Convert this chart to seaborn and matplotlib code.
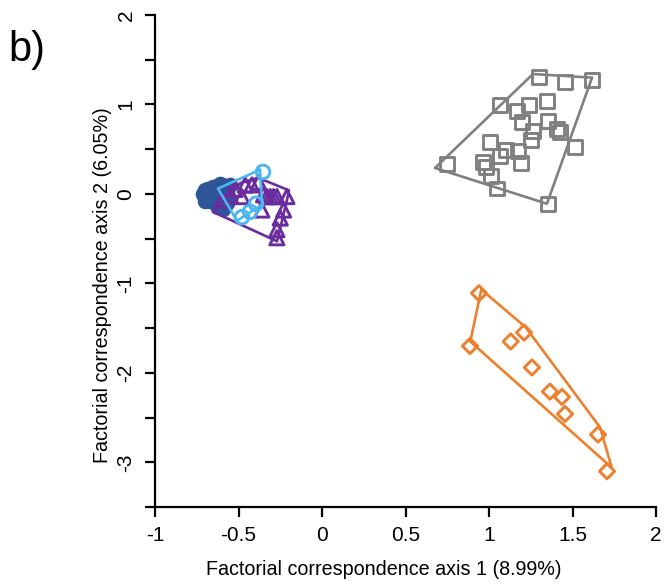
import numpy as np
import pandas as pd
import matplotlib
matplotlib.use("Agg")
import matplotlib.pyplot as plt
import seaborn as sns

# ---- data ----
dark_x = [-0.71, -0.70, -0.69, -0.68, -0.67, -0.66, -0.65, -0.64, -0.63, -0.62,
          -0.60, -0.58, -0.56, -0.70, -0.66, -0.62, -0.59, -0.66, -0.63, -0.60,
          -0.55, -0.57, -0.61]
dark_y = [0.00, 0.04, -0.05, 0.06, -0.08, 0.02, 0.08, -0.03, -0.12, 0.09,
          0.10, 0.05, -0.02, -0.08, 0.05, -0.15, -0.17, -0.02, 0.06, -0.08,
          0.10, -0.10, 0.11]

purple_x = [-0.46, -0.42, -0.38, -0.48, -0.35, -0.31, -0.27, -0.21, -0.23,
            -0.25, -0.27, -0.27, -0.60, -0.55, -0.36, -0.52, -0.33, -0.29]
purple_y = [0.10, 0.10, 0.13, -0.03, -0.01, -0.03, -0.03, -0.03, -0.18,
            -0.27, -0.40, -0.49, -0.07, -0.01, -0.18, 0.05, -0.03, -0.03]
purple_hull_x = [-0.653, -0.49, -0.383, -0.198, -0.21, -0.269]
purple_hull_y = [-0.20, 0.12, 0.18, 0.04, -0.07, -0.53]

light_x = [-0.353, -0.395, -0.479, -0.431]
light_y = [0.246, -0.11, -0.26, -0.20]
light_hull_x = [-0.371, -0.623, -0.509, -0.359]
light_hull_y = [0.27, 0.06, -0.30, -0.12]

gray_x = [1.30, 1.455, 1.617, 1.066, 1.168, 1.24, 1.347, 1.198, 1.353, 1.407,
          1.425, 1.263, 1.25, 1.006, 1.515, 1.10, 1.174, 1.066, 1.19, 0.964,
          0.982, 1.012, 0.749, 1.048, 1.353]
gray_y = [1.31, 1.25, 1.27, 0.99, 0.93, 0.99, 1.04, 0.80, 0.82, 0.73,
          0.69, 0.70, 0.60, 0.58, 0.52, 0.49, 0.48, 0.42, 0.35, 0.36,
          0.30, 0.20, 0.33, 0.06, -0.11]
gray_hull_x = [0.677, 1.263, 1.617, 1.347]
gray_hull_y = [0.29, 1.34, 1.30, -0.11]

orange_x = [0.94, 0.886, 1.21, 1.13, 1.257, 1.365, 1.437, 1.455, 1.653, 1.707]
orange_y = [-1.11, -1.70, -1.55, -1.65, -1.94, -2.21, -2.27, -2.46, -2.69, -3.10]
orange_hull_x = [0.954, 1.219, 1.665, 1.735, 0.888]
orange_hull_y = [-1.07, -1.49, -2.61, -3.06, -1.65]

x_ticks = [-1, -0.5, 0, 0.5, 1, 1.5, 2]
x_tick_labels = ["-1", "-0.5", "0", "0.5", "1", "1.5", "2"]
y_ticks = [-3.5, -3, -2.5, -2, -1.5, -1, -0.5, 0, 0.5, 1, 1.5, 2]
y_tick_labels = ["", "-3", "", "-2", "", "-1", "", "0", "", "1", "", "2"]

C_DARK = "#2E5597"
C_PURPLE = "#6A2C9E"
C_LIGHT = "#4DB6F0"
C_GRAY = "#808080"
C_ORANGE = "#EE7F2D"

sns.set_theme(style="ticks")
plt.rcParams["font.family"] = ["Liberation Sans", "DejaVu Sans"]
plt.rcParams["text.color"] = "black"
plt.rcParams["axes.labelcolor"] = "black"

fig = plt.figure(figsize=(6.66, 5.88), dpi=100)
ax = fig.add_axes([155 / 666, 81 / 588, 501 / 666, 492 / 588])


def closed(xs, ys):
    return pd.DataFrame({"x": list(xs) + [xs[0]], "y": list(ys) + [ys[0]]})


def hull(xs, ys, color, z):
    sns.lineplot(data=closed(xs, ys), x="x", y="y", sort=False, estimator=None,
                 color=color, linewidth=1.9, ax=ax, zorder=z)


def pts(xs, ys, marker, color, s, z, filled=False):
    df = pd.DataFrame({"x": xs, "y": ys})
    if filled:
        sns.scatterplot(data=df, x="x", y="y", marker=marker, s=s, color=color,
                        edgecolor=color, linewidth=1.5, ax=ax, zorder=z)
    else:
        sns.scatterplot(data=df, x="x", y="y", marker=marker, s=s,
                        facecolor="none", edgecolor=color, linewidth=2.1,
                        ax=ax, zorder=z)


# gray squares
hull(gray_hull_x, gray_hull_y, C_GRAY, 2)
pts(gray_x, gray_y, "s", C_GRAY, 100, 3)
# orange diamonds
hull(orange_hull_x, orange_hull_y, C_ORANGE, 2)
pts(orange_x, orange_y, "D", C_ORANGE, 60, 3)
# dark blue filled circles
pts(dark_x, dark_y, "o", C_DARK, 95, 4, filled=True)
# purple triangles
hull(purple_hull_x, purple_hull_y, C_PURPLE, 5)
pts(purple_x, purple_y, "^", C_PURPLE, 105, 6)
# light blue open circles
hull(light_hull_x, light_hull_y, C_LIGHT, 7)
pts(light_x, light_y, "o", C_LIGHT, 95, 8)

ax.set_xlim(-1, 2)
ax.set_ylim(-3.5, 2)
ax.set_xticks(x_ticks)
ax.set_xticklabels(x_tick_labels)
ax.set_yticks(y_ticks)
ax.set_yticklabels(y_tick_labels, rotation=90, va="center")
ax.tick_params(axis="both", direction="out", length=7, width=1.6,
               labelsize=15, colors="black", pad=7)
for side in ["top", "right"]:
    ax.spines[side].set_visible(False)
for side in ["left", "bottom"]:
    ax.spines[side].set_linewidth(1.6)
    ax.spines[side].set_color("black")
ax.spines["left"].set_bounds(-3.5, 2)
ax.spines["bottom"].set_bounds(-1, 2)

ax.set_xlabel("Factorial correspondence axis 1 (8.99%)", fontsize=14.2, color="black")
ax.set_ylabel("Factorial correspondence axis 2 (6.05%)", fontsize=14.2, color="black")
ax.xaxis.set_label_coords(0.457, -0.108)
ax.yaxis.set_label_coords(-0.085, 0.451)

fig.text(0.012, 0.915, "b)", fontsize=30, ha="left", va="center", color="black")

fig.savefig("out.png", dpi=100)
